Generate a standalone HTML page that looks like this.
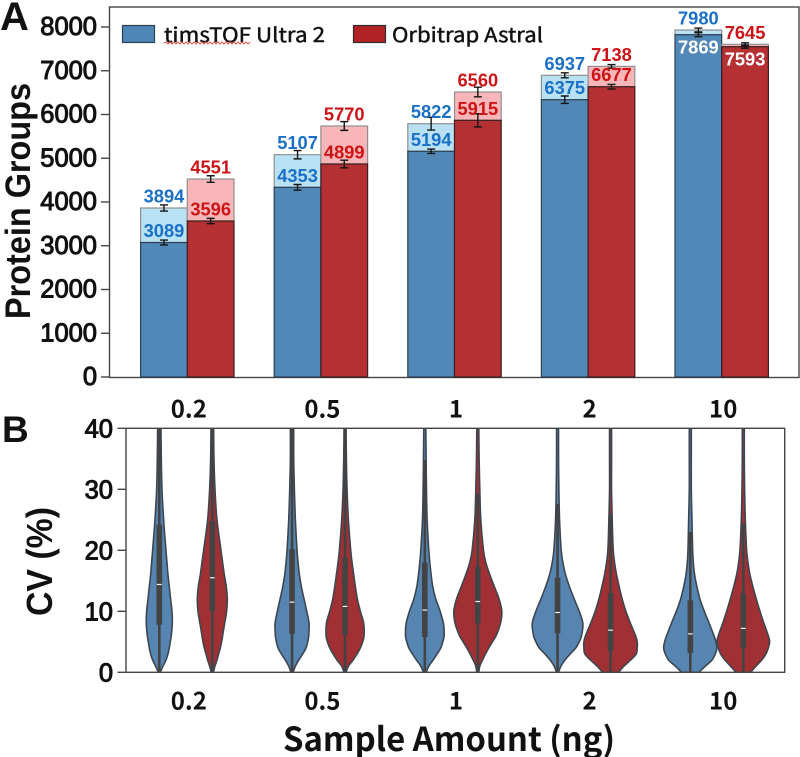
<!DOCTYPE html>
<html lang="en">
<head>
<meta charset="utf-8">
<title>Protein Groups and CV by Sample Amount</title>
<style>
html,body{margin:0;padding:0;background:#fff;}
svg{display:block;}
text{fill:#111;}
.yt{font:normal 25.5px "Liberation Sans",sans-serif;text-anchor:end;dominant-baseline:central;stroke:#111;stroke-width:1;}
.xt{font:bold 24px "Noto Sans CJK SC","Liberation Sans",sans-serif;text-anchor:middle;dominant-baseline:central;}
.dl{font:bold 18.3px "Liberation Sans",sans-serif;text-anchor:middle;dominant-baseline:central;stroke-width:0;}
.leg{font:normal 20px "Noto Sans CJK SC","Liberation Sans",sans-serif;dominant-baseline:central;stroke:#111;stroke-width:.45;}
</style>
</head>
<body>
<svg id="fig" width="800" height="757" viewBox="0 0 800 757" xmlns="http://www.w3.org/2000/svg">
<defs><clipPath id="plotB"><rect x="126" y="428" width="659" height="244.6"/></clipPath></defs>
<rect width="800" height="757" fill="#fff"/>
<text x="0" y="30" style="font:bold 40px 'Liberation Sans',sans-serif">A</text>
<text x="2" y="442" style="font:bold 37px 'Liberation Sans',sans-serif">B</text>
<text transform="translate(30,201) rotate(-90)" text-anchor="middle" textLength="236" lengthAdjust="spacingAndGlyphs" style="font:bold 35px 'Liberation Sans',sans-serif">Protein Groups</text>
<text transform="translate(52,561.5) rotate(-90)" text-anchor="middle" textLength="109" lengthAdjust="spacingAndGlyphs" style="font:bold 36px 'Liberation Sans',sans-serif">CV (%)</text>
<text x="449" y="737" text-anchor="middle" textLength="332" lengthAdjust="spacingAndGlyphs" dominant-baseline="central" style="font:bold 33px 'Noto Sans CJK SC','Liberation Sans',sans-serif">Sample Amount (ng)</text>
<g id="panelA"></g>
<g id="panelB"></g>
<rect x="122.5" y="25.5" width="32" height="17" fill="#4f86b7" stroke="#2c3e50" stroke-width="1.2"/>
<text class="leg" x="164" y="33.5" textLength="161" lengthAdjust="spacingAndGlyphs">timsTOF Ultra 2</text>
<path id="squiggle" fill="none" stroke="#e2574c" stroke-width="1"/>
<rect x="353.5" y="25.5" width="32" height="17" fill="#b32326" stroke="#2c2c2c" stroke-width="1.2"/>
<text class="leg" x="392" y="33.5" textLength="151" lengthAdjust="spacingAndGlyphs">Orbitrap Astral</text>
</svg>
<script>
// ---------- shared categories ----------
const categories = ["0.2", "0.5", "1", "2", "10"];

// ---------- panel A data ----------
const yTicksA = [0, 1000, 2000, 3000, 4000, 5000, 6000, 7000, 8000];
const timsTotal = [3863, 5081, 5790, 6895, 7931];
const astralTotal = [4525, 5737, 6514, 7100, 7604];
const timsCommon = [3074, 4335, 5159, 6338, 7824];
const astralCommon = [3566, 4869, 5867, 6635, 7550];
const timsTotalErr = [70, 95, 145, 57, 45];
const astralTotalErr = [75, 100, 110, 42, 35];
const timsCommonErr = [55, 65, 50, 85, 45];
const astralCommonErr = [60, 87, 150, 53, 35];
const timsTotalLabels = ["3894", "5107", "5822", "6937", "7980"];
const astralTotalLabels = ["4551", "5770", "6560", "7138", "7645"];
const timsCommonLabels = ["3089", "4353", "5194", "6375", "7869"];
const astralCommonLabels = ["3596", "4899", "5915", "6677", "7593"];

// ---------- panel B data ----------
const yTicksB = [0, 10, 20, 30, 40];
const cvGrid = [0, 1, 2, 3, 4, 5, 6, 8, 10, 12, 14, 16, 18, 20, 25, 30, 35, 40];
const tims02Density = [3, 11, 20, 26, 30, 33, 36, 39, 38, 34, 30, 26, 23, 20, 13, 8, 6, 5];
const astral02Density = [3, 8, 14, 19, 24, 28, 31, 37, 43, 45, 42, 36, 31, 26, 14, 8, 5, 4];
const tims05Density = [3, 10, 20, 32, 42, 47, 50, 51, 44, 36, 28, 22, 18, 15, 10, 7, 5, 5];
const astral05Density = [3, 10, 24, 36, 46, 53, 57, 56, 46, 37, 31, 26, 21, 17, 10, 6, 4, 3];
const tims1Density = [4, 12, 25, 37, 48, 54, 58, 56, 46, 33, 24, 19, 15, 12, 7, 5, 4, 3];
const astral1Density = [3, 6, 14, 23, 33, 44, 55, 68, 72, 64, 50, 36, 24, 17, 9, 6, 4, 3];
const tims2Density = [3, 10, 22, 38, 55, 65, 72, 76, 65, 50, 36, 24, 16, 11, 6, 4, 3, 3];
const astral2Density = [24, 40, 60, 77, 80, 80, 75, 60, 46, 35, 26, 18, 12, 8, 5, 3, 3, 3];
const tims10Density = [26, 45, 65, 75, 80, 77, 71, 57, 42, 29, 20, 13, 9, 7, 5, 3, 3, 3];
const astral10Density = [22, 38, 55, 68, 75, 79, 75, 62, 50, 39, 29, 20, 14, 10, 6, 4, 3, 3];
const timsQ1 = [7.8, 6.3, 5.8, 6.4, 3.2];
const timsQ3 = [24.2, 20.2, 18, 15.5, 11.8];
const timsMedian = [14.4, 11.5, 10.2, 9.8, 6.3];
const timsWhisker = [41, 41, 34.8, 27.6, 23];
const astralQ1 = [10.05, 6.1, 8, 3.5, 4];
const astralQ3 = [24.8, 18.8, 17.3, 13, 12.9];
const astralMedian = [15.5, 10.8, 11.6, 6.9, 7.2];
const astralWhisker = [41, 41, 29.3, 25.9, 24.4];

// ---------- scales ----------
const NS = "http://www.w3.org/2000/svg";
const yA = v => 377 - v * 0.04375;
const xA = i => 187.3 + i * 133.6;
const BAR_W = 46.7;
const yB = v => 672.3 - v * 6.1;
const xB = i => 185.8 + i * 132.75;
const VIOLIN_OFFSET = 26.5;
const densityToPx = d => d / 3;

const panelA = document.getElementById("panelA");
const panelB = document.getElementById("panelB");

function make(parent, tag, attrs, text) {
  const e = document.createElementNS(NS, tag);
  for (const k in attrs) e.setAttribute(k, attrs[k]);
  if (text !== undefined) e.textContent = text;
  parent.appendChild(e);
  return e;
}

// ---------- panel A: frame and axes ----------
const frameA = make(panelA, "rect", {x: 109.5, y: 7, width: 689.5, height: 370.5, fill: "none", stroke: "#444", "stroke-width": 1.4});



yTicksA.forEach(v => {
  const tick = make(panelA, "line", {x1: 101, x2: 109.5, y1: yA(v), y2: yA(v), stroke: "#444", "stroke-width": 1.4});
  
  
  const label = make(panelA, "text", {class: "yt", x: 97, y: yA(v)}, String(v));
  
  
});

categories.forEach((c, i) => {
  const label = make(panelA, "text", {class: "xt", x: xA(i) + 1.5, y: 407}, c);
  
  
});

function drawBar(left, total, common, lightFill, darkFill, darkStroke) {
  const light = make(panelA, "rect", {x: left, y: yA(total), width: BAR_W, height: yA(common) - yA(total), fill: lightFill, stroke: "#8f8f8f", "stroke-width": 1.2});
  
  
  const dark = make(panelA, "rect", {x: left, y: yA(common), width: BAR_W, height: yA(0) - yA(common), fill: darkFill, stroke: darkStroke, "stroke-width": 1.2});
  
  
}

function drawError(cx, value, err) {
  const g = make(panelA, "path", {
    d: `M${cx - 4},${yA(value + err)}H${cx + 4}M${cx},${yA(value + err)}V${yA(value - err)}M${cx - 4},${yA(value - err)}H${cx + 4}`,
    fill: "none", stroke: "#151515", "stroke-width": 1.4
  });
  
  
}

function drawLabels(cx, total, common, totalLabel, commonLabel, color) {
  const top = make(panelA, "text", {class: "dl", x: cx, y: yA(total) - 12, style: "fill:" + color}, totalLabel);
  
  
  const inside = total - common < 300;
  const c2 = inside ? "#fff" : color;
  const low = make(panelA, "text", {class: "dl", x: cx, y: inside ? yA(common) + 12.5 : yA(common) - 12, style: "fill:" + c2}, commonLabel);
  
  
}

categories.forEach((c, i) => {
  const bl = xA(i) - BAR_W, rl = xA(i);
  drawBar(bl, timsTotal[i], timsCommon[i], "#b9e1f4", "#5288b8", "#2b3f52");
  drawBar(rl, astralTotal[i], astralCommon[i], "#f8b6b9", "#b53033", "#3a2020");
  const bc = bl + BAR_W / 2, rc = rl + BAR_W / 2;
  drawError(bc, timsTotal[i], timsTotalErr[i]);
  drawError(bc, timsCommon[i], timsCommonErr[i]);
  drawError(rc, astralTotal[i], astralTotalErr[i]);
  drawError(rc, astralCommon[i], astralCommonErr[i]);
  drawLabels(bc, timsTotal[i], timsCommon[i], timsTotalLabels[i], timsCommonLabels[i], "#1a70c8");
  drawLabels(rc, astralTotal[i], astralCommon[i], astralTotalLabels[i], astralCommonLabels[i], "#cc1417");
});

// ---------- panel B: frame and axes ----------
const timsDensities = [tims02Density, tims05Density, tims1Density, tims2Density, tims10Density];
const astralDensities = [astral02Density, astral05Density, astral1Density, astral2Density, astral10Density];

// cubic Hermite through the outline, parameterised on y so uneven grid spacing stays smooth
function smoothSide(pts) {
  const n = pts.length;
  const slope = k => {
    const a = pts[Math.max(k - 1, 0)], b = pts[Math.min(k + 1, n - 1)];
    return (b[0] - a[0]) / (b[1] - a[1]);
  };
  let d = "";
  for (let i = 0; i < n - 1; i++) {
    const p1 = pts[i], p2 = pts[i + 1], h = p2[1] - p1[1];
    const c1x = p1[0] + slope(i) * h / 3, c1y = p1[1] + h / 3;
    const c2x = p2[0] - slope(i + 1) * h / 3, c2y = p2[1] - h / 3;
    d += `C${c1x.toFixed(2)},${c1y.toFixed(2)} ${c2x.toFixed(2)},${c2y.toFixed(2)} ${p2[0].toFixed(2)},${p2[1].toFixed(2)}`;
  }
  return d;
}

function drawViolin(cx, density, q1, q3, med, whisker, fill, clipGroup) {
  const right = cvGrid.map((v, k) => [cx + densityToPx(density[k]), yB(v)]);
  const left = cvGrid.map((v, k) => [cx - densityToPx(density[k]), yB(v)]).reverse();
  const d = `M${right[0][0]},${right[0][1]}` + smoothSide(right) + `L${left[0][0]},${left[0][1]}` + smoothSide(left) + "Z";
  const body = make(clipGroup, "path", {d: d, fill: fill, stroke: "#3d4650", "stroke-width": 1.6});
  
  
  const w = make(clipGroup, "line", {x1: cx, x2: cx, y1: yB(0), y2: yB(whisker), stroke: "#434343", "stroke-width": 2.6});
  
  
  const box = make(clipGroup, "rect", {x: cx - 2.8, y: yB(q3), width: 5.6, height: yB(q1) - yB(q3), fill: "#434343"});
  
  
  const m = make(clipGroup, "line", {x1: cx - 2.4, x2: cx + 2.4, y1: yB(med), y2: yB(med), stroke: "#f2f2f2", "stroke-width": 1.2});
  
  
}

const clipGroup = make(panelB, "g", {"clip-path": "url(#plotB)"});



categories.forEach((c, i) => {
  drawViolin(xB(i) - VIOLIN_OFFSET, timsDensities[i], timsQ1[i], timsQ3[i], timsMedian[i], timsWhisker[i], "#5585b0", clipGroup);
  drawViolin(xB(i) + VIOLIN_OFFSET, astralDensities[i], astralQ1[i], astralQ3[i], astralMedian[i], astralWhisker[i], "#a03034", clipGroup);
  const label = make(panelB, "text", {class: "xt", x: xA(i) + 1.5, y: 699}, c);
  
  
});

const frameB = make(panelB, "rect", {x: 126, y: 428.3, width: 658.7, height: 244, fill: "none", stroke: "#444", "stroke-width": 1.4});



yTicksB.forEach(v => {
  const tick = make(panelB, "line", {x1: 117.5, x2: 126, y1: yB(v), y2: yB(v), stroke: "#444", "stroke-width": 1.4});
  
  
  const label = make(panelB, "text", {class: "yt", x: 113, y: yB(v) + 1}, String(v));
  
  
});

// ---------- spell-check squiggle under "timsTOF" ----------
let sq = "M164,43";
for (let x = 166, up = true; x <= 250; x += 2, up = !up) sq += `L${x},${up ? 42 : 44}`;
document.getElementById("squiggle").setAttribute("d", sq);
</script>
</body>
</html>
